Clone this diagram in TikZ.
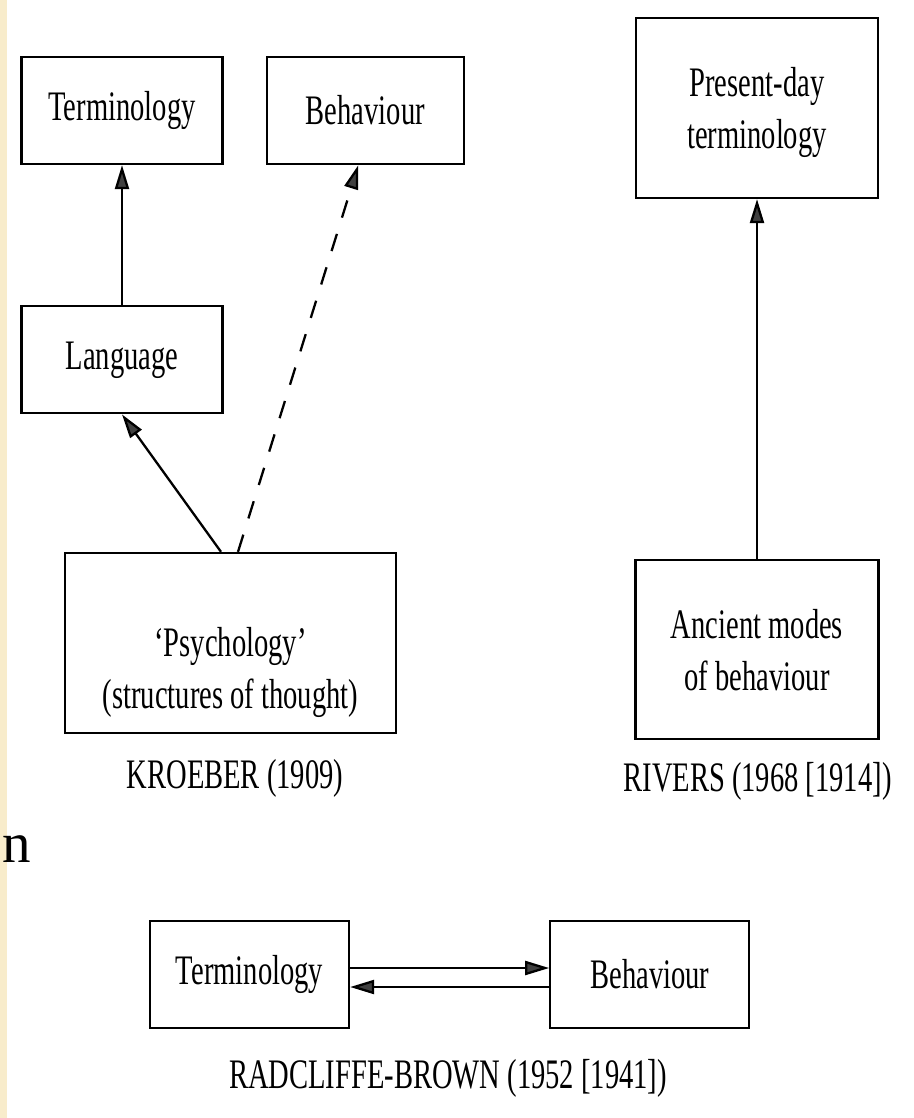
\documentclass[tikz,border=0pt]{standalone}
\usepackage{fontspec}
\setmainfont{Liberation Serif}[FakeStretch=0.68]
\newfontfamily\pagefont{Liberation Serif}
\usepackage{xcolor}
\usetikzlibrary{arrows.meta,positioning}
\definecolor{stripcol}{RGB}{248,236,203}

\begin{document}
\begin{tikzpicture}[x=1pt,y=-1pt,->,>={Triangle[length=24pt,width=14pt,fill=black!75]},
  line width=2.3pt, node distance=40pt,
  box/.style={rectangle,draw,line width=2.3pt,inner sep=0pt,align=center,
    font=\fontsize{42}{52}\selectfont},
  caption/.style={anchor=base,inner sep=0pt,font=\fontsize{42}{52}\selectfont},
  hint/.style={dash pattern=on 18pt off 17pt}]
    \useasboundingbox (0,0) rectangle (913,1118);
    \fill[-,stripcol] (0,0) rectangle (7.3,1118);
    \node[anchor=base west,inner sep=0pt,font=\pagefont\fontsize{57}{60}\selectfont] (pagen) at (1,862) {n};

    % KROEBER
    \node[box,minimum width=201pt,minimum height=107pt] (termK) at (122,110.5) {Terminology};
    \node[box,minimum width=197pt,minimum height=107pt] (behK) [right = 42pt of termK] {Behaviour};
    \node[box,minimum width=201pt,minimum height=107pt] (lang) [below = 140pt of termK] {Language};
    \node[box,minimum width=331pt,minimum height=180pt] (psych) at (230.5,643)
      {\rule{0pt}{88pt}`Psychology'\\(structures of thought)};
    \node[caption] (kroeber) at (235,788) {KROEBER (1909)};

    % RIVERS
    \node[box,minimum width=242pt,minimum height=180pt] (present) at (757,108)
      {\rule{0pt}{38pt}Present-day\\terminology};
    \node[box,minimum width=243pt,minimum height=179pt] (ancient) [below = 360pt of present]
      {Ancient modes\\of behaviour};
    \node[caption] (rivers) at (757.5,791) {RIVERS (1968 [1914])};

    % RADCLIFFE-BROWN
    \node[box,minimum width=199pt,minimum height=107pt] (termR) at (249.5,974.5) {Terminology};
    \node[box,minimum width=199pt,minimum height=107pt] (behR) [right = 199pt of termR] {Behaviour};
    \node[caption] (radcliffe) at (448,1088) {RADCLIFFE-BROWN (1952 [1941])};

    \path (lang) edge (termK)
    ([xshift=-9.5pt]psych.north) edge (lang.south)
    ([xshift=7.5pt]psych.north) edge[hint] ([xshift=-7pt]behK.south)
    (ancient) edge (present)
    ([yshift=6.5pt]termR.east) edge ([yshift=6.5pt]termR.east -| behR.west)
    ([yshift=-12.5pt]termR.east -| behR.west) edge ([yshift=-12.5pt]termR.east);
\end{tikzpicture}
\end{document}
